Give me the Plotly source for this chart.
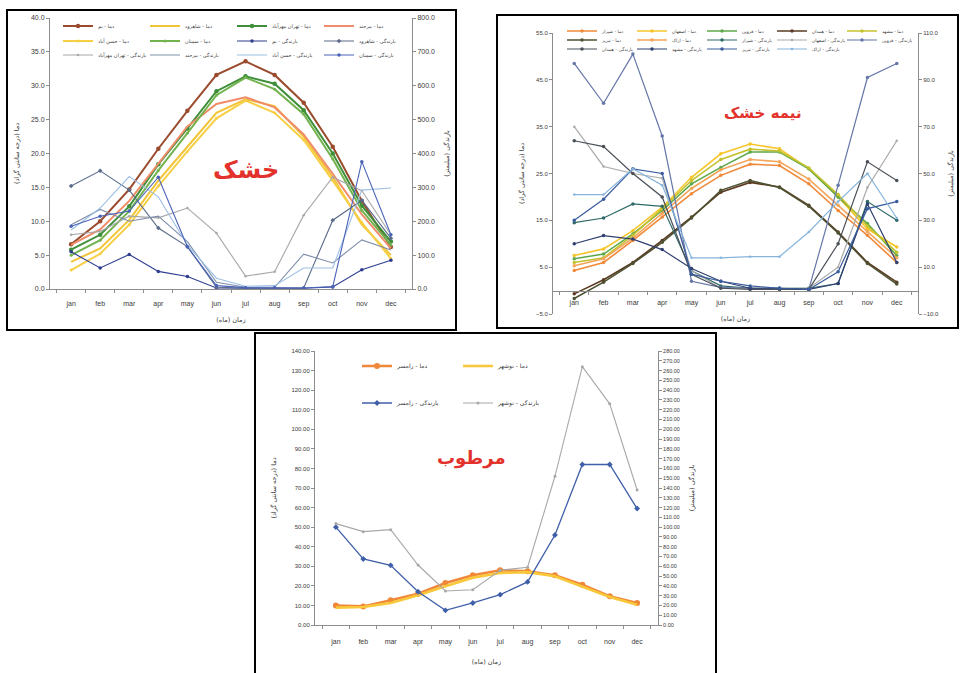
import plotly.graph_objects as go

W, H = 960, 673
months = ["jan", "feb", "mar", "apr", "may", "jun", "jul", "aug", "sep", "oct", "nov", "dec"]

# ---------------- Arid stations (خشک) ----------------
arid_t_bam = [6.6, 10.0, 14.7, 20.7, 26.3, 31.6, 33.6, 31.6, 27.5, 21.0, 13.0, 6.2]
arid_t_shahrud = [4.0, 6.0, 10.2, 16.0, 21.0, 26.0, 28.0, 27.0, 22.5, 16.5, 9.5, 5.0]
arid_t_tehran = [5.8, 8.0, 12.2, 18.4, 23.7, 29.2, 31.4, 30.3, 26.4, 20.0, 12.3, 7.0]
arid_t_birjand = [6.5, 8.8, 13.0, 18.5, 24.0, 27.3, 28.3, 26.8, 22.8, 17.0, 11.0, 6.0]
arid_t_hasanabad = [2.8, 5.2, 9.5, 15.2, 20.3, 25.2, 27.8, 26.0, 22.0, 16.0, 9.8, 4.5]
arid_t_semnan = [5.0, 7.2, 11.5, 17.5, 23.0, 28.6, 31.2, 29.5, 25.8, 19.2, 11.6, 6.5]

arid_p_bam = [110, 62, 102, 52, 37, 3, 2, 3, 2, 6, 57, 85]
arid_p_shahrud = [304, 349, 292, 180, 125, 5, 3, 3, 3, 203, 262, 150]
arid_p_tehran = [160, 170, 215, 210, 239, 165, 38, 51, 218, 330, 290, 160]
arid_p_birjand = [190, 235, 200, 215, 140, 20, 5, 5, 103, 77, 145, 115]
arid_p_hasanabad = [174, 239, 332, 272, 130, 32, 8, 10, 62, 62, 292, 298]
arid_p_semnan = [185, 215, 230, 330, 125, 10, 4, 4, 3, 7, 376, 160]

# ---------------- Semi-arid stations (نیمه خشک) ----------------
semi_t_shiraz = [4.3, 6.0, 10.7, 15.7, 20.7, 24.6, 27.0, 26.7, 22.8, 17.1, 11.8, 6.0]
semi_t_isfahan = [7.5, 8.9, 12.8, 17.8, 24.2, 29.2, 31.3, 30.3, 26.0, 20.0, 13.2, 9.3]
semi_t_qazvin = [6.8, 7.8, 12.1, 17.1, 22.8, 26.3, 29.6, 29.6, 26.0, 20.0, 14.3, 7.5]
semi_t_hamedan = [-0.7, 2.3, 6.0, 10.7, 15.7, 21.0, 23.1, 22.1, 18.2, 12.5, 6.0, 1.8]
semi_t_mashhad = [6.0, 7.0, 11.8, 17.5, 23.5, 28.0, 30.2, 29.8, 26.2, 20.5, 13.8, 8.2]
semi_t_tabriz = [-1.7, 1.8, 5.8, 10.3, 15.5, 21.4, 23.5, 22.0, 18.0, 12.3, 5.8, 1.4]
semi_t_arak = [5.3, 6.8, 11.2, 16.5, 21.8, 25.8, 28.0, 27.5, 23.8, 18.2, 12.6, 7.0]

semi_p_shiraz = [29, 31, 37, 36, 8.5, 2, 1, 1, 1, 3, 38, 30]
semi_p_isfahan = [70, 53, 50, 48, 8.5, 1, 1, 1, 1, 10, 44, 64]
semi_p_qazvin = [97, 80, 101, 66, 4, 1.4, 1, 0.5, 0.5, 45, 91, 97]
semi_p_hamedan = [64, 61.5, 50, 40, 7, 1, 0.5, 0.5, 0.5, 20, 55, 47]
semi_p_mashhad = [20, 23.5, 22, 17.5, 9.4, 4, 1, 1, 0.5, 3, 37, 12]
semi_p_tabriz = [30, 39, 52, 50, 7, 4, 2, 1, 0.5, 8, 35, 38]
semi_p_arak = [41, 41, 52, 45, 14, 14, 14.5, 14.5, 25, 38, 50, 31]

# ---------------- Humid stations (مرطوب) ----------------
humid_t_ramsar = [9.9, 9.5, 12.6, 16.0, 21.5, 25.4, 28.0, 27.4, 25.4, 20.6, 14.7, 11.2]
humid_t_nowshahr = [8.9, 9.2, 11.2, 15.2, 19.8, 24.2, 26.6, 27.0, 24.9, 19.8, 14.3, 10.4]
humid_p_ramsar = [100, 67.5, 61, 34, 15, 22.5, 31, 44, 92, 164, 164, 119]
humid_p_nowshahr = [103.6, 95.4, 97.4, 61.3, 34.8, 36, 56, 59, 152, 264, 226, 138]


def fx(p):
    return p / W


def fy(p):
    return 1 - p / H


TXT = "Liberation Sans, DejaVu Sans, sans-serif"
FA = "DejaVu Sans, sans-serif"

fig = go.Figure()


def add(name, vals, xa, ya, leg, color, width=1.2, symbol=None, msize=4):
    mode = "lines+markers" if symbol else "lines"
    fig.add_trace(go.Scatter(
        x=months, y=vals, name=name, mode=mode, xaxis=xa, yaxis=ya, legend=leg,
        line=dict(color=color, width=width),
        marker=dict(symbol=symbol or "circle", size=msize, color=color),
    ))


# Arid panel traces
add("دما - بم", arid_t_bam, "x", "y", "legend", "#9A4B2E", 2, "circle", 4.5)
add("دما - شاهرود", arid_t_shahrud, "x", "y", "legend", "#F2C437", 2)
add("دما - تهران مهرآباد", arid_t_tehran, "x", "y", "legend", "#3F8F3A", 2, "circle", 4.5)
add("دما - بیرجند", arid_t_birjand, "x", "y", "legend", "#F08C6A", 2)
add("دما - حسن آباد", arid_t_hasanabad, "x", "y", "legend2", "#F7CF45", 2, "circle", 3)
add("دما - سمنان", arid_t_semnan, "x", "y", "legend2", "#72B34E", 2, "circle", 3)
add("بارندگی - بم", arid_p_bam, "x", "y2", "legend2", "#2E3D8F", 1.1, "circle", 3.5)
add("بارندگی - شاهرود", arid_p_shahrud, "x", "y2", "legend2", "#5B6B8A", 1.1, "diamond", 3.5)
add("بارندگی - تهران مهرآباد", arid_p_tehran, "x", "y2", "legend3", "#A8A8A8", 1.1, "circle", 2.5)
add("بارندگی - بیرجند", arid_p_birjand, "x", "y2", "legend3", "#7F8FAA", 1.1)
add("بارندگی - حسن آباد", arid_p_hasanabad, "x", "y2", "legend3", "#9EC0E6", 1.1)
add("بارندگی - سمنان", arid_p_semnan, "x", "y2", "legend3", "#4A63B8", 1.1, "circle", 3.5)

# Semi-arid panel traces
add("دما - شیراز", semi_t_shiraz, "x2", "y3", "legend4", "#F08A3A", 1.6, "circle", 3.5)
add("دما - اصفهان", semi_t_isfahan, "x2", "y3", "legend4", "#F7C52A", 1.6, "circle", 3.5)
add("دما - قزوین", semi_t_qazvin, "x2", "y3", "legend4", "#5FA84A", 1.6, "circle", 3.5)
add("دما - همدان", semi_t_hamedan, "x2", "y3", "legend4", "#5C3B22", 1.6, "circle", 3.5)
add("دما - مشهد", semi_t_mashhad, "x2", "y3", "legend4", "#C4C22E", 1.6, "circle", 3.5)
add("دما - تبریز", semi_t_tabriz, "x2", "y3", "legend5", "#4E5232", 1.6, "circle", 3.5)
add("دما - اراک", semi_t_arak, "x2", "y3", "legend5", "#F3A55A", 1.6, "circle", 3.5)
add("بارندگی - شیراز", semi_p_shiraz, "x2", "y4", "legend5", "#2F6A68", 1.2, "circle", 3.5)
add("بارندگی - اصفهان", semi_p_isfahan, "x2", "y4", "legend5", "#A9A9A9", 1.2, "circle", 2.5)
add("بارندگی - قزوین", semi_p_qazvin, "x2", "y4", "legend5", "#6576A8", 1.2, "circle", 3.5)
add("بارندگی - همدان", semi_p_hamedan, "x2", "y4", "legend6", "#4A5058", 1.2, "circle", 3.5)
add("بارندگی - مشهد", semi_p_mashhad, "x2", "y4", "legend6", "#2F3F6F", 1.2, "circle", 3.5)
add("بارندگی - تبریز", semi_p_tabriz, "x2", "y4", "legend6", "#3A5C9E", 1.2, "circle", 3.5)
add("بارندگی - اراک", semi_p_arak, "x2", "y4", "legend6", "#86B4DC", 1.2, "circle", 2.5)

# Humid panel traces
add("دما - رامسر", humid_t_ramsar, "x3", "y5", "legend7", "#F0883A", 2.6, "circle", 6)
add("دما - نوشهر", humid_t_nowshahr, "x3", "y5", "legend7", "#F8C83A", 2.6)
add("بارندگی - رامسر", humid_p_ramsar, "x3", "y6", "legend8", "#3F5FA8", 1.3, "diamond", 4.5)
add("بارندگی - نوشهر", humid_p_nowshahr, "x3", "y6", "legend8", "#A8A8A8", 1.1, "circle", 3)

AX = "#8C8C8C"
TICKC = "#3A3A3A"


def yax(dom, rng, dtick, fmt, side="left", overlay=None, anchor=None, title="", tick0=None,
        fsize=7, standoff=6):
    d = dict(domain=dom, range=rng, dtick=dtick, tickformat=fmt, side=side,
             showline=True, linecolor=AX, linewidth=1, ticks="outside", ticklen=3,
             tickcolor=AX, showgrid=False, zeroline=False,
             tickfont=dict(size=fsize, color=TICKC, family=TXT),
             title=dict(text=title, font=dict(size=6.5, color=TICKC, family=FA), standoff=standoff))
    if tick0 is not None:
        d["tick0"] = tick0
    if overlay:
        d["overlaying"] = overlay
    if anchor:
        d["anchor"] = anchor
    return d


def xax(dom, anchor, title, position=None, labgap=8, standoff=10):
    d = dict(domain=dom, type="category", showline=True, linecolor=AX, linewidth=1,
             ticks="outside", tickson="boundaries", ticklen=3, tickcolor=AX,
             showgrid=False, zeroline=False, tickangle=0, ticklabelstandoff=labgap,
             tickfont=dict(size=7, color=TICKC, family=TXT),
             title=dict(text=title, font=dict(size=6.5, color=TICKC, family=FA), standoff=standoff))
    if position is None:
        d["anchor"] = anchor
    else:
        d["anchor"] = "free"
        d["position"] = position
    return d


# panel geometry in pixels
p1_y = [fy(289), fy(18)]
p2_y = [fy(314), fy(33)]
p3_y = [fy(625), fy(351)]
p2_left = [-5, 55]
p2_zero = p2_y[0] + (0 - p2_left[0]) / (p2_left[1] - p2_left[0]) * (p2_y[1] - p2_y[0])

layout_axes = dict(
    xaxis=xax([fx(50), fx(412)], "y", "زمان (ماه)", labgap=8, standoff=10),
    yaxis=yax(p1_y, [0, 40], 5, ".1f", anchor="x", title="دما (درجه سانتی گراد)", standoff=10),
    yaxis2=yax(p1_y, [0, 800], 100, ".1f", side="right", overlay="y", anchor="x",
               title="بارندگی (میلیمتر)", standoff=10),
    xaxis2=xax([fx(553), fx(918)], "y3", "زمان (ماه)", position=p2_zero, labgap=5, standoff=10),
    yaxis3=yax(p2_y, p2_left, 10, ".1f", anchor="x2", tick0=-5, fsize=6,
               title="دما (درجه سانتی گراد)", standoff=10),
    yaxis4=yax(p2_y, [-10, 110], 20, ".1f", side="right", overlay="y3", anchor="x2",
               tick0=-10, fsize=6, title="بارندگی (میلیمتر)", standoff=10),
    xaxis3=xax([fx(315), fx(658)], "y5", "زمان (ماه)", labgap=10, standoff=14),
    yaxis5=yax(p3_y, [0, 140], 10, ".2f", anchor="x3", fsize=6,
               title="دما (درجه سانتی گراد)", standoff=14),
    yaxis6=yax(p3_y, [0, 280], 10, ".2f", side="right", overlay="y5", anchor="x3", fsize=5.5,
               title="بارندگی (میلیمتر)", standoff=10),
)


# horizontal one-row legends; entrywidth is the text slot, the symbol adds ~45 px
def leg(x, y, width, fsize):
    return dict(orientation="h", x=fx(x), y=fy(y), xanchor="left", yanchor="middle",
                bgcolor="rgba(0,0,0,0)", entrywidth=width, entrywidthmode="pixels",
                itemwidth=30, font=dict(size=fsize, family=FA, color="#404040"),
                tracegroupgap=0)


legends = dict(
    legend=leg(58, 26, 42, 5),
    legend2=leg(58, 41, 42, 5),
    legend3=leg(58, 55, 42, 5),
    legend4=leg(562, 31, 25, 4.5),
    legend5=leg(562, 40, 25, 4.5),
    legend6=leg(562, 49, 25, 4.5),
    legend7=leg(357, 366, 56, 6),
    legend8=leg(357, 403, 56, 6),
)

frames = [
    (7, 10, 456, 330),
    (497, 15, 958, 328),
    (255, 333, 716, 680),
]
shapes = [dict(type="rect", xref="paper", yref="paper", x0=fx(a), y0=fy(d), x1=fx(c), y1=fy(b),
               line=dict(color="black", width=2), fillcolor="rgba(0,0,0,0)")
          for a, b, c, d in frames]


def label(text, x, y, size):
    return dict(text="<b>%s</b>" % text, x=fx(x), y=fy(y), xref="paper", yref="paper",
                xanchor="center", yanchor="middle", showarrow=False,
                font=dict(size=size, color="#E2322B", family=FA))


annotations = [
    label("خشک", 246, 170, 24),
    label("نیمه خشک", 763, 113, 15),
    label("مرطوب", 471, 458, 18),
]

fig.update_layout(
    width=W, height=H, margin=dict(l=0, r=0, t=0, b=0, autoexpand=False),
    paper_bgcolor="white", plot_bgcolor="white",
    font=dict(family=TXT, size=7, color=TICKC),
    showlegend=True, shapes=shapes, annotations=annotations,
    **layout_axes, **legends,
)

fig.write_html("out.html")
